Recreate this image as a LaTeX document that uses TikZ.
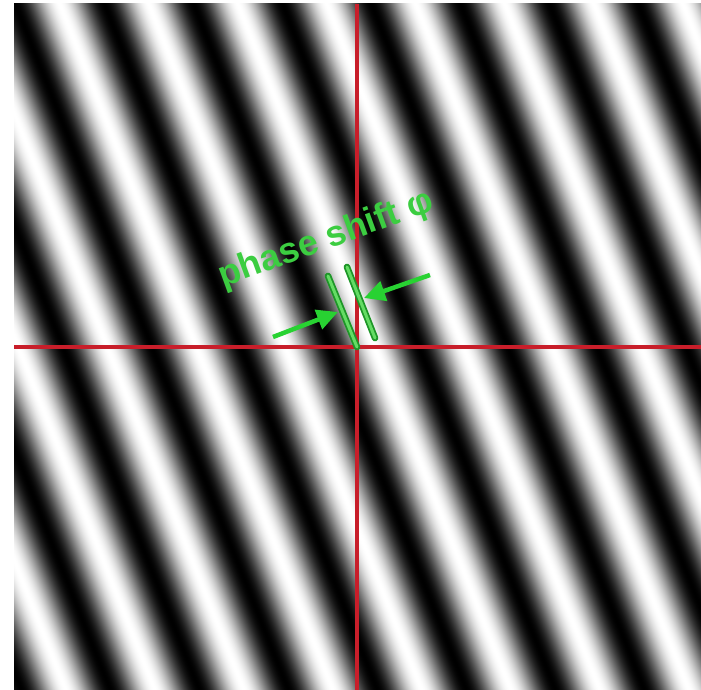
\documentclass[tikz,border=0pt]{standalone}
\usepackage{fontspec}
\setmainfont{Liberation Sans}
\usetikzlibrary{arrows.meta}
\definecolor{redln}{RGB}{200,30,42}
\definecolor{gdark}{RGB}{30,150,40}
\definecolor{glight}{RGB}{100,220,100}
\definecolor{gmid}{RGB}{40,210,50}
\definecolor{gtxt}{RGB}{60,205,65}
\pgfdeclarefunctionalshading{grating}{\pgfpoint{0bp}{0bp}}{\pgfpoint{100bp}{100bp}}{}{
22.088 mul exch 55.578 mul add 3230.4 sub cos 0.5 mul 0.5 add dup dup
}
\begin{document}
\begin{tikzpicture}[x=1pt,y=-1pt,
  redline/.style={line width=3.2pt, draw=redln},
  markline/.style={draw=gdark, line width=1.8pt, double=glight, double distance=3pt, line cap=round},
  garrow/.style={draw=gmid, line width=4.5pt, -{Triangle[length=21pt,width=20pt]}},
  gtext/.style={text=gtxt, font=\fontsize{36}{40}\selectfont\bfseries, inner sep=0pt}]
\fill[white] (0,0) rectangle (701,690);
\useasboundingbox (0,0) rectangle (701,690);
\shade[shading=grating] (14,4) rectangle (701,690);
% axes
\coordinate (top) at (357,4);
\coordinate (bot) at (357,690);
\coordinate (lft) at (14,347);
\coordinate (rgt) at (701,347);
\draw[redline] (top) -- (bot);
\draw[redline] (lft) -- (rgt);
% phase markers
\coordinate (m1a) at (328,276);
\coordinate (m1b) at (357,347);
\coordinate (m2a) at (347,267);
\coordinate (m2b) at (375,338);
\draw[markline] (m1a) -- (m1b);
\draw[markline] (m2a) -- (m2b);
% arrows
\coordinate (a1s) at (273,337);
\coordinate (a1t) at (338,312);
\coordinate (a2s) at (430,275);
\coordinate (a2t) at (364,298);
\draw[garrow] (a1s) -- (a1t);
\draw[garrow] (a2s) -- (a2t);
% label
\node[gtext, rotate=20] (lbl) at (326,240) {phase shift φ};
\end{tikzpicture}
\end{document}
